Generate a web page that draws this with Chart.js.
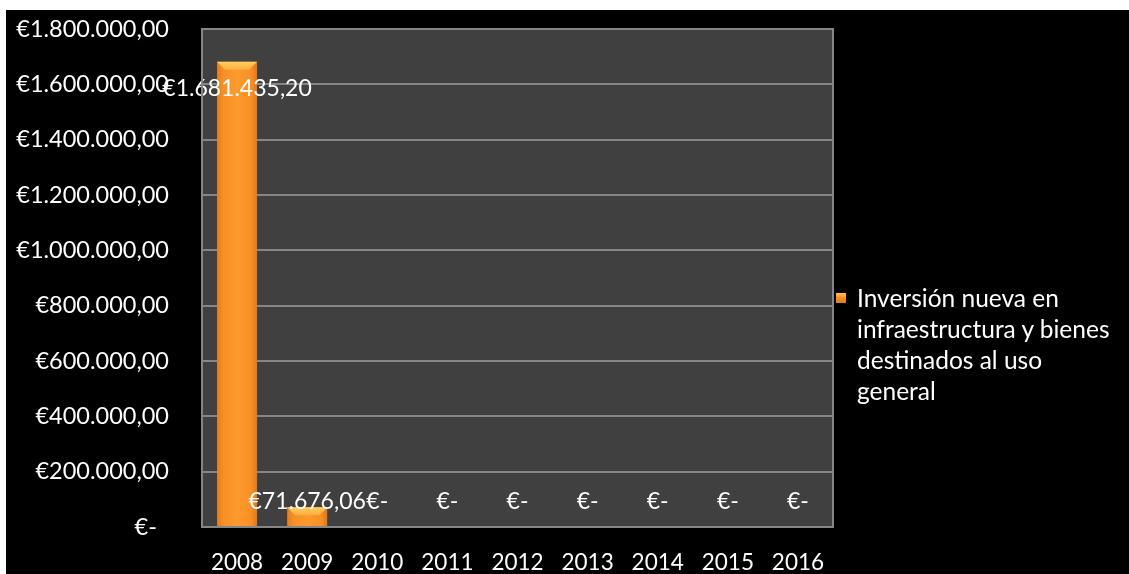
<!DOCTYPE html>
<html>
<head>
<meta charset="utf-8">
<script src="https://cdn.jsdelivr.net/npm/chart.js@4"></script>
<style>
  html, body { margin: 0; padding: 0; background: #fff; }
  #wrap { position: absolute; left: 6px; top: 10px; width: 1123px; height: 564px; background: #000; }
  #legend { position: absolute; left: 830px; top: 272px; width: 280px; color: #fff;
            font: 24.5px Lato, sans-serif; line-height: 31px; }
  #legend .box { position: absolute; left: 0; top: 11px; width: 10px; height: 10px;
                 background: linear-gradient(#ffc35a, #f5921f 45%, #e07a18); }
  #legend .txt { margin-left: 21px; }
</style>
</head>
<body>
<div id="wrap">
  <canvas id="chart" width="1123" height="564"></canvas>
  <div id="legend"></div>
</div>
<script>
// Chart data
const years = ['2008', '2009', '2010', '2011', '2012', '2013', '2014', '2015', '2016'];
const inversion = [1681435.20, 71676.06, 0, 0, 0, 0, 0, 0, 0];
const seriesName = 'Inversión nueva en infraestructura y bienes destinados al uso general';
const yTicks = [0, 200000, 400000, 600000, 800000, 1000000, 1200000, 1400000, 1600000, 1800000];

// euro format like €1.681.435,20
function euro(v) {
  if (v === 0) return '€-';
  const parts = v.toFixed(2).split('.');
  return '€' + parts[0].replace(/\B(?=(\d{3})+(?!\d))/g, '.') + ',' + parts[1];
}

const plotBg = {
  id: 'plotBg',
  beforeDraw(chart) {
    const { ctx, chartArea: a } = chart;
    ctx.save();
    ctx.fillStyle = '#404040';
    ctx.fillRect(a.left, a.top, a.right - a.left, a.bottom - a.top);
    ctx.restore();
  },
  afterDraw(chart) {
    const { ctx, chartArea: a } = chart;
    ctx.save();
    ctx.strokeStyle = '#868686';
    ctx.lineWidth = 2;
    ctx.strokeRect(a.left, a.top, a.right - a.left, a.bottom - a.top);
    ctx.restore();
  }
};

// bevelled bars + value labels
const barLook = {
  id: 'barLook',
  afterDatasetsDraw(chart) {
    const { ctx } = chart;
    const meta = chart.getDatasetMeta(0);
    const base = chart.scales.y.getPixelForValue(0);
    meta.data.forEach((bar, i) => {
      const w = bar.width, l = bar.x - w / 2, t = bar.y, h = base - t;
      ctx.save();
      if (h > 0.5) {
        const g = ctx.createLinearGradient(l, 0, l + w, 0);
        g.addColorStop(0, '#e37c1c');
        g.addColorStop(0.15, '#f88f25');
        g.addColorStop(0.5, '#fd9a2e');
        g.addColorStop(0.85, '#f88f25');
        g.addColorStop(1, '#df781a');
        ctx.fillStyle = g;
        ctx.fillRect(l, t, w, h);
        const bv = Math.min(8, h / 2);
        const g2 = ctx.createLinearGradient(0, t, 0, t + bv);
        g2.addColorStop(0, '#ffcf62');
        g2.addColorStop(1, '#ffad3c');
        ctx.fillStyle = g2;
        ctx.beginPath();
        ctx.moveTo(l, t);
        ctx.lineTo(l + w, t);
        ctx.lineTo(l + w - bv, t + bv);
        ctx.lineTo(l + bv, t + bv);
        ctx.closePath();
        ctx.fill();
      }
      ctx.fillStyle = '#fff';
      ctx.font = '23px Lato, sans-serif';
      ctx.textAlign = 'center';
      ctx.textBaseline = 'middle';
      const ly = h > 60 ? t + 27 : base - 25;
      ctx.fillText(euro(inversion[i]), bar.x, ly);
      ctx.restore();
    });
  }
};

new Chart(document.getElementById('chart'), {
  type: 'bar',
  data: {
    labels: years,
    datasets: [{
      label: seriesName,
      data: inversion,
      backgroundColor: 'rgba(0,0,0,0)',
      barPercentage: 0.571,
      categoryPercentage: 1
    }]
  },
  options: {
    responsive: false,
    animation: false,
    layout: { padding: { top: 19, right: 296, left: 0, bottom: 0 } },
    plugins: { legend: { display: false }, tooltip: { enabled: false } },
    scales: {
      x: {
        grid: { display: false, drawTicks: false },
        border: { display: false },
        ticks: { color: '#fff', font: { family: 'Lato', size: 22.5 }, padding: 22, maxRotation: 0 },
        afterFit(s) { s.height = 47; }
      },
      y: {
        min: 0,
        max: 1800000,
        afterBuildTicks(s) { s.ticks = yTicks.map(v => ({ value: v })); },
        grid: { color: '#868686', lineWidth: 2, drawTicks: false },
        border: { display: false },
        ticks: {
          color: '#fff',
          font: { family: 'Lato', size: 23.5 },
          padding: 33,
          callback: v => v === 0 ? '€-  ' : euro(v)
        },
        afterFit(s) { s.width = 196; s.paddingTop = 0; s.paddingBottom = 0; }
      }
    }
  },
  plugins: [plotBg, barLook]
});

document.getElementById('legend').innerHTML =
  '<div class="box"></div><div class="txt">' + seriesName + '</div>';
</script>
</body>
</html>
